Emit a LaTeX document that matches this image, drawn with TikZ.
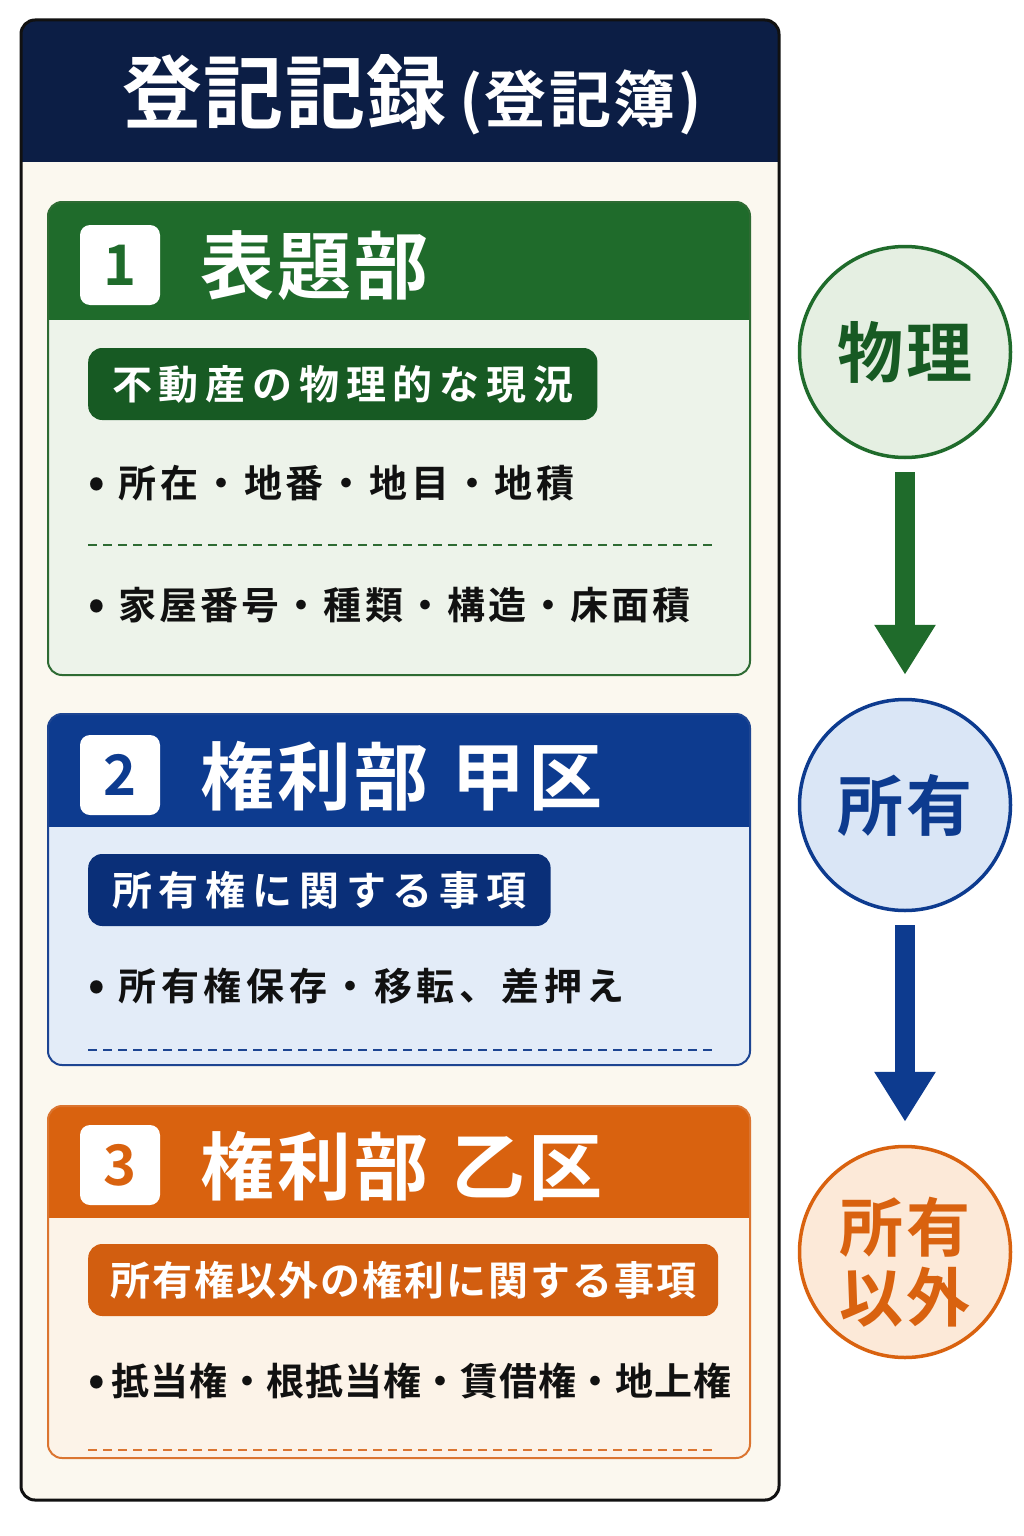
\documentclass[tikz,border=0pt]{standalone}
\usepackage{fontspec}
\setmainfont{Noto Sans CJK JP Bold}
\usetikzlibrary{arrows.meta}
\definecolor{navy}{HTML}{0C1E45}
\definecolor{cream}{HTML}{FBF8EF}
\definecolor{ghead}{HTML}{1F6B2B}
\definecolor{gpill}{HTML}{175A23}
\definecolor{gbody}{HTML}{EDF3EA}
\definecolor{gline}{HTML}{2E6B33}
\definecolor{gcirc}{HTML}{E5EFE2}
\definecolor{bhead}{HTML}{0D3B8F}
\definecolor{bpill}{HTML}{0A2F78}
\definecolor{bbody}{HTML}{E3ECF8}
\definecolor{bline}{HTML}{1D4592}
\definecolor{bcirc}{HTML}{DAE6F6}
\definecolor{ohead}{HTML}{D9620F}
\definecolor{opill}{HTML}{D25E10}
\definecolor{obody}{HTML}{FCF3E8}
\definecolor{oline}{HTML}{DB7530}
\definecolor{ocirc}{HTML}{FCE9D8}
\definecolor{ink}{HTML}{111111}
\newcommand{\myfs}[1]{\fontsize{#1}{#1}\selectfont}
\newcommand{\regsec}[6]{%
  \begin{scope}
    \clip[rounded corners=14] (48,#1) rectangle (750,#3);
    \fill[#5] (48,#1) rectangle (750,#3);
    \fill[#4] (48,#1) rectangle (750,#2);
  \end{scope}
  \draw[#6, line width=2, rounded corners=14] (48,#1) rectangle (750,#3);
}
\begin{document}
\begin{tikzpicture}[x=1pt,y=-1pt,
  numbox/.style={fill=white, rounded corners=10, minimum width=80, minimum height=80, inner sep=0, font=\myfs{56}},
  headtxt/.style={anchor=west, inner sep=0, text=white, font=\myfs{74}\addfontfeatures{LetterSpace=4}},
  pill/.style={anchor=west, rounded corners=14, minimum height=72, inner xsep=24, inner ysep=0, text=white, font=\myfs{40}\addfontfeatures{LetterSpace=17}},
  bul/.style={anchor=west, inner sep=0, text=ink, font=\myfs{38}},
  dashline/.style={line width=2.2, dash pattern=on 9pt off 6pt},
  circ/.style={circle, minimum size=211, inner sep=0, line width=3.5, font=\myfs{66}\addfontfeatures{LetterSpace=6}},
  circtxt/.style={inner sep=0, align=center, font=\fontsize{64}{70}\selectfont\addfontfeatures{LetterSpace=6}},
  blockarrow/.style={line width=20, -{Triangle[width=58pt,length=50pt]}}]
\useasboundingbox (0,0) rectangle (1024,1536);
\fill[white] (0,0) rectangle (1024,1536);
% outer frame
\begin{scope}
  \clip[rounded corners=14] (21,20) rectangle (779,1500);
  \fill[cream] (21,20) rectangle (779,1500);
  \fill[navy] (21,20) rectangle (779,162);
\end{scope}
\draw[line width=3, rounded corners=14, ink] (21,20) rectangle (779,1500);
\node[inner sep=0, text=white] (title) at (412,95) {\myfs{80}\addfontfeatures{LetterSpace=2}登記記録\hspace{12pt}\myfs{62}\addfontfeatures{LetterSpace=4}(登記簿)};
% section 1
\regsec{202}{320}{675}{ghead}{gbody}{gline}
\node[numbox, text=ghead] (n1) at (120,265) {1};
\node[headtxt] (h1) at (200,266) {表題部};
\node[pill, fill=gpill] (p1) at (88,384) {不動産の物理的な現況};
\node[bul] (b1) at (88,483) {{\myfs{44}•}\hspace{14pt}\addfontfeatures{LetterSpace=10}所在・地番・地目・地積};
\draw[dashline, gline] (88,545) -- (715,545);
\node[bul] (b2) at (88,605) {{\myfs{44}•}\hspace{14pt}\addfontfeatures{LetterSpace=8}家屋番号・種類・構造・床面積};
% section 2
\regsec{714}{827}{1065}{bhead}{bbody}{bline}
\node[numbox, text=bhead] (n2) at (120,775) {2};
\node[headtxt] (h2) at (200,776) {権利部\hspace{23pt}甲区};
\node[pill, fill=bpill] (p2) at (88,890) {所有権に関する事項};
\node[bul] (b3) at (88,986) {{\myfs{44}•}\hspace{14pt}\addfontfeatures{LetterSpace=12}所有権保存・移転、差押え};
\draw[dashline, bline] (88,1050) -- (715,1050);
% section 3
\regsec{1106}{1218}{1458}{ohead}{obody}{oline}
\node[numbox, text=ohead] (n3) at (120,1165) {3};
\node[headtxt] (h3) at (200,1166) {権利部\hspace{23pt}乙区};
\node[pill, fill=opill, font=\myfs{40}\addfontfeatures{LetterSpace=5}, inner xsep=22] (p3) at (88,1280) {所有権以外の権利に関する事項};
\node[bul] (b4) at (88,1381) {{\myfs{44}•}\hspace{7pt}\addfontfeatures{LetterSpace=2}抵当権・根抵当権・賃借権・地上権};
\draw[dashline, oline] (88,1450) -- (715,1450);
% right column
\node[circ, draw=ghead, fill=gcirc, text=gpill] (c1) at (905,352) {物理};
\node[circ, draw=bhead, fill=bcirc, text=bhead] (c2) at (905,805) {所有};
\node[circ, draw=ohead, fill=ocirc] (c3) at (905,1252) {};
\node[circtxt, text=ohead] (t3) at (905,1262) {所有\\以外};
\draw[blockarrow, ghead, shorten <=13pt, shorten >=23pt] (c1) -- (c2);
\draw[blockarrow, bhead, shorten <=13pt, shorten >=23pt] (c2) -- (c3);
\end{tikzpicture}
\end{document}
